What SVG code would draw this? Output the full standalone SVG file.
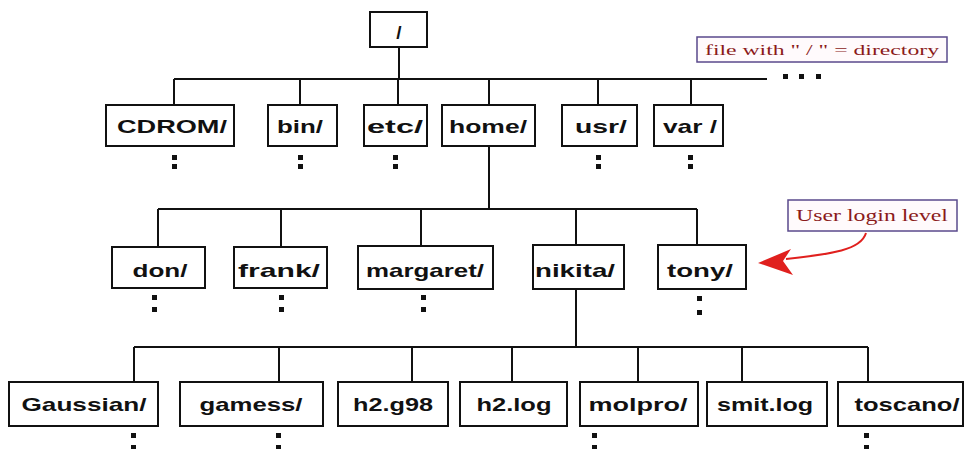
<svg xmlns="http://www.w3.org/2000/svg" width="970" height="449" viewBox="0 0 970 449">
<style>
.box{fill:#fff;stroke:#111;stroke-width:2}
.t{font-family:"Liberation Sans",Arial,sans-serif;font-weight:bold;font-size:19px;fill:#111;text-anchor:middle}
.ln{stroke:#111;stroke-width:2;fill:none}
.dot{fill:#111}
.note{fill:#fffafc;stroke:#5a4a8c;stroke-width:1.5}
.nt{font-family:"Liberation Serif","Times New Roman",serif;fill:#8b1a1a;text-anchor:middle}
</style>
<rect width="970" height="449" fill="#fff"/>
<g id="connectors">
<path class="ln" d="M399 47V79M174 79H767M174 79V105M300 79V105M398 79V105M489 79V105M598 79V105M691 79V105"/>
<path class="ln" d="M489 146V209M158 209H697M158 209V247M281 209V247M421 209V247M576 209V245M697 209V245"/>
<path class="ln" d="M576 289V347M134 347H868M134 347V382M279 347V382M412 347V382M512 347V382M638 347V382M742 347V382M868 347V382"/>
<g class="dot">
<rect x="783" y="74" width="5" height="5"/><rect x="799" y="74" width="5" height="5"/><rect x="816" y="74" width="5" height="5"/>
<rect x="172" y="155" width="5" height="5"/><rect x="172" y="164" width="5" height="5"/>
<rect x="298" y="155" width="5" height="5"/><rect x="298" y="164" width="5" height="5"/>
<rect x="393" y="155" width="5" height="5"/><rect x="393" y="164" width="5" height="5"/>
<rect x="596" y="155" width="5" height="5"/><rect x="596" y="164" width="5" height="5"/>
<rect x="688" y="155" width="5" height="5"/><rect x="688" y="164" width="5" height="5"/>
<rect x="152" y="295" width="5" height="5"/><rect x="152" y="307" width="5" height="5"/>
<rect x="279" y="295" width="5" height="5"/><rect x="279" y="307" width="5" height="5"/>
<rect x="421" y="295" width="5" height="5"/><rect x="421" y="307" width="5" height="5"/>
<rect x="697" y="296" width="5" height="5"/><rect x="697" y="310" width="5" height="5"/>
<rect x="131" y="433" width="5" height="5"/><rect x="131" y="445" width="5" height="5"/>
<rect x="276" y="433" width="5" height="5"/><rect x="276" y="445" width="5" height="5"/>
<rect x="592" y="433" width="5" height="5"/><rect x="592" y="445" width="5" height="5"/>
<rect x="864" y="433" width="5" height="5"/><rect x="864" y="445" width="5" height="5"/>
</g>
<path d="M866 233C861 250 832 254 786 259" stroke="#e0201e" stroke-width="2" fill="none"/>
<polygon points="758,263 791,249 783,261 793,275" fill="#e0201e"/>
</g>
<g id="root"><rect class="box" x="370" y="12" width="57" height="35"/><text class="t" x="399" y="39">/</text></g>
<g id="legend-dir"><rect class="note" x="697" y="37" width="250" height="25"/><text class="nt" x="822" y="55" font-size="15" textLength="234" lengthAdjust="spacingAndGlyphs">file with " / " = directory</text></g>
<g id="legend-user"><rect class="note" x="788" y="200" width="169" height="31"/><text class="nt" x="872" y="221" font-size="17" textLength="152" lengthAdjust="spacingAndGlyphs">User login level</text></g>
<g id="CDROM"><rect class="box" x="106" y="105" width="128" height="41"/><text class="t" x="172" y="133" textLength="110" lengthAdjust="spacingAndGlyphs">CDROM/</text></g>
<g id="bin"><rect class="box" x="268" y="105" width="69" height="41"/><text class="t" x="300" y="133" textLength="46" lengthAdjust="spacingAndGlyphs">bin/</text></g>
<g id="etc"><rect class="box" x="364" y="105" width="63" height="41"/><text class="t" x="395" y="133" textLength="56" lengthAdjust="spacingAndGlyphs">etc/</text></g>
<g id="home"><rect class="box" x="442" y="105" width="93" height="41"/><text class="t" x="488" y="133" textLength="78" lengthAdjust="spacingAndGlyphs">home/</text></g>
<g id="usr"><rect class="box" x="562" y="105" width="75" height="41"/><text class="t" x="601" y="133" textLength="52" lengthAdjust="spacingAndGlyphs">usr/</text></g>
<g id="var"><rect class="box" x="654" y="105" width="69" height="41"/><text class="t" x="690" y="133" textLength="54" lengthAdjust="spacingAndGlyphs">var /</text></g>
<g id="don"><rect class="box" x="112" y="247" width="93" height="41"/><text class="t" x="160" y="277" textLength="55" lengthAdjust="spacingAndGlyphs">don/</text></g>
<g id="frank"><rect class="box" x="234" y="247" width="93" height="41"/><text class="t" x="279" y="277" textLength="82" lengthAdjust="spacingAndGlyphs">frank/</text></g>
<g id="margaret"><rect class="box" x="358" y="246" width="135" height="43"/><text class="t" x="425" y="277" textLength="118" lengthAdjust="spacingAndGlyphs">margaret/</text></g>
<g id="nikita"><rect class="box" x="533" y="245" width="91" height="44"/><text class="t" x="575" y="277" textLength="80" lengthAdjust="spacingAndGlyphs">nikita/</text></g>
<g id="tony"><rect class="box" x="658" y="245" width="88" height="44"/><text class="t" x="700" y="277" textLength="66" lengthAdjust="spacingAndGlyphs">tony/</text></g>
<g id="Gaussian"><rect class="box" x="9" y="382" width="149" height="44"/><text class="t" x="84" y="411" textLength="125" lengthAdjust="spacingAndGlyphs">Gaussian/</text></g>
<g id="gamess"><rect class="box" x="180" y="382" width="143" height="44"/><text class="t" x="251" y="411" textLength="103" lengthAdjust="spacingAndGlyphs">gamess/</text></g>
<g id="h2g98"><rect class="box" x="338" y="382" width="110" height="44"/><text class="t" x="393" y="411" textLength="80" lengthAdjust="spacingAndGlyphs">h2.g98</text></g>
<g id="h2log"><rect class="box" x="460" y="382" width="107" height="44"/><text class="t" x="514" y="411" textLength="75" lengthAdjust="spacingAndGlyphs">h2.log</text></g>
<g id="molpro"><rect class="box" x="580" y="382" width="118" height="44"/><text class="t" x="638" y="411" textLength="99" lengthAdjust="spacingAndGlyphs">molpro/</text></g>
<g id="smitlog"><rect class="box" x="707" y="382" width="120" height="44"/><text class="t" x="765" y="411" textLength="96" lengthAdjust="spacingAndGlyphs">smit.log</text></g>
<g id="toscano"><rect class="box" x="838" y="382" width="125" height="44"/><text class="t" x="907" y="411" textLength="105" lengthAdjust="spacingAndGlyphs">toscano/</text></g>
</svg>
